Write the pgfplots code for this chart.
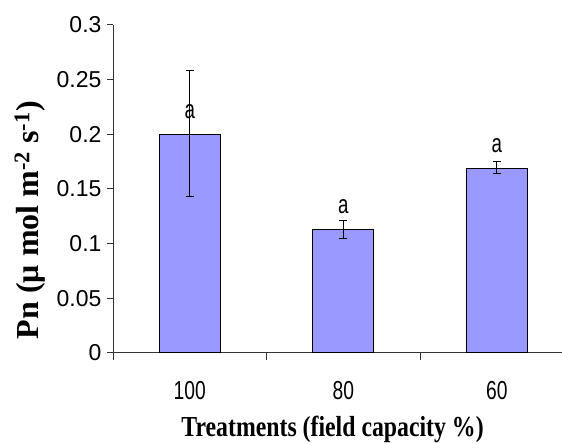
\documentclass[border=0pt]{standalone}
\usepackage{fontspec}
\setmainfont{Liberation Sans}
\newfontfamily\labelfont{Liberation Serif}
\usepackage{graphicx}
\usepackage{pgfplots}
\pgfplotsset{compat=1.18}
\definecolor{barfill}{HTML}{9999FF}
\definecolor{axisgray}{HTML}{333333}

% net photosynthesis: mean and error (plus / minus) per treatment
\pgfplotstableread{
x  val    ep     em
0  0.200  0.058  0.057
1  0.113  0.008  0.008
2  0.169  0.006  0.005
}\pndata

\newcommand{\narrow}[2]{\scalebox{#1}[1]{#2}}

\begin{document}
\begin{tikzpicture}
\useasboundingbox (0,0) rectangle (562pt,444pt);
\begin{axis}[
  at={(113pt,91pt)}, anchor=south west,
  scale only axis, width=449pt, height=328pt,
  xmin=-0.5, xmax=2.425, ymin=0, ymax=0.3,
  axis x line*=bottom, axis y line*=left,
  axis line style={axisgray, line width=1pt},
  tick align=outside,
  xtick={0,1,2},
  xticklabels={{\narrow{0.74}{100}},{\narrow{0.74}{80}},{\narrow{0.74}{60}}},
  major x tick style={draw=none},
  minor xtick={-0.5,0.5,1.5},
  minor tick length=7pt,
  minor x tick style={axisgray, line width=1pt},
  ytick={0,0.05,0.1,0.15,0.2,0.25,0.3},
  yticklabels={0,0.05,0.1,0.15,0.2,0.25,0.3},
  major tick length=6pt,
  y tick style={axisgray, line width=1pt},
  x tick label style={font=\fontsize{26}{30}\selectfont, anchor=base, yshift=-40pt},
  y tick label style={font=\fontsize{23}{27}\selectfont, xshift=-2pt},
  every axis x label/.style={at={(axis description cs:0.489,-0.256)}, anchor=base},
  every axis y label/.style={at={(axis description cs:-0.185,0.405)}, anchor=center, rotate=90},
  xlabel={\labelfont\bfseries\fontsize{29}{34}\selectfont\narrow{0.82}{Treatments (field capacity \%)}},
  ylabel={\labelfont\bfseries\fontsize{32}{36}\selectfont Pn (μ mol m\textsuperscript{-2} s\textsuperscript{-1})},
  clip=false,
]
\addplot[ybar, bar width=61pt, fill=barfill, draw=black, line width=1pt,
  nodes near coords={\narrow{0.72}{a}},
  every node near coord/.append style={font=\fontsize{26}{28}\selectfont, inner sep=0pt, yshift=15pt, text=black},
  error bars/.cd, y dir=both, y explicit,
  error bar style={black, line width=1pt},
  error mark options={rotate=90, black, mark size=4pt, line width=1pt}]
  table[x=x, y=val, y error plus=ep, y error minus=em] {\pndata};
\end{axis}
\end{tikzpicture}
\end{document}
